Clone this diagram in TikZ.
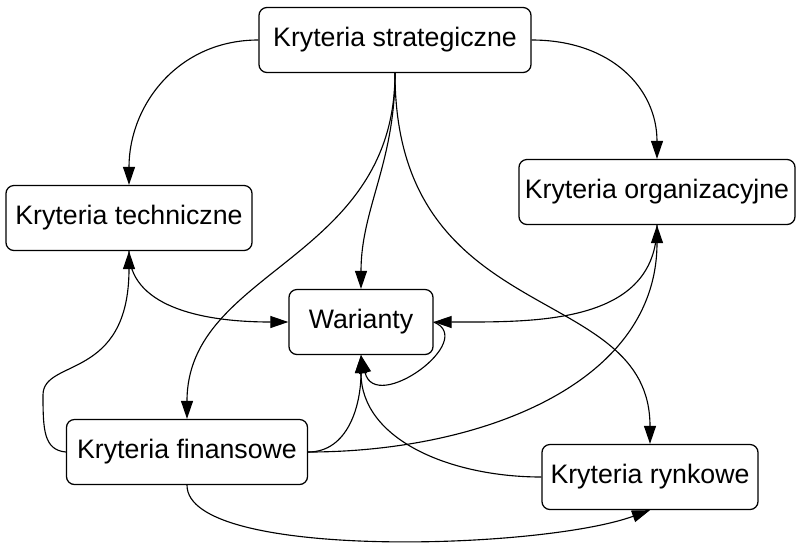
\documentclass[tikz,border=0pt]{standalone}
\usepackage{fontspec}
\setmainfont{Liberation Sans}
\usepackage{tikz}
\usetikzlibrary{arrows.meta}
\tikzset{
  kryt/.style={draw,rounded corners=2mm,line width=0.9pt,minimum height=1.625cm,
    inner sep=1mm,fill=white,font=\fontsize{19}{22}\selectfont},
  link/.style={-{Triangle[length=4.5mm,width=3mm]},line width=0.8pt}
}

\begin{document}
\begin{tikzpicture}[x=0.025cm,y=-0.025cm]
\useasboundingbox (0,0) rectangle (797,542);
\node[kryt,minimum width=6.8cm]  (strat) at (395,40)  {Kryteria strategiczne};
\node[kryt,minimum width=6.15cm] (techn) at (129,218) {Kryteria techniczne};
\node[kryt,minimum width=6.9cm]  (org)   at (657,192) {Kryteria organizacyjne};
\node[kryt,minimum width=3.6cm]  (war)   at (361,322) {Warianty};
\node[kryt,minimum width=6.025cm] (fin)  at (187,452) {Kryteria finansowe};
\node[kryt,minimum width=5.4cm]  (ryn)   at (650,477) {Kryteria rynkowe};
\coordinate (finbend) at (43,395);

\draw[link] (strat.west) .. controls +(-80,0) and +(0,-80) .. (techn.north);
\draw[link] (strat.east) .. controls +(80,0) and +(0,-70) .. (org.north);
\draw[link] (strat.south) .. controls +(0,90) and +(0,-80) .. (war.north);
\draw[link] (strat.south) .. controls +(0,188) and +(0,-150) .. (fin.north);
\draw[link] (strat.south) .. controls +(0,258) and +(0,-164) .. (ryn.north);
\draw[link] (techn.south) .. controls +(0,54) and +(-90,0) .. (war.west);
\draw[link] (fin.west) .. controls +(-22,-2) and +(0,35) .. (finbend)
  .. controls +(0,-37) and +(0,130) .. (techn.south);
\draw[link] (fin.east) .. controls +(40,0) and +(0,50) .. (war.south);
\draw[link] (fin.east) .. controls +(170,0) and +(0,160) .. (org.south);
\draw[link] (org.south) .. controls +(0,100) and +(100,0) .. (war.east);
\draw[link] (war.east) .. controls +(45,18) and +(14,60) .. (war.south);
\draw[link] (ryn.west) .. controls +(-90,0) and +(0,85) .. (war.south);
\draw[link] (fin.south) .. controls +(0,75) and +(-110,40) .. (ryn.south);
\end{tikzpicture}
\end{document}
